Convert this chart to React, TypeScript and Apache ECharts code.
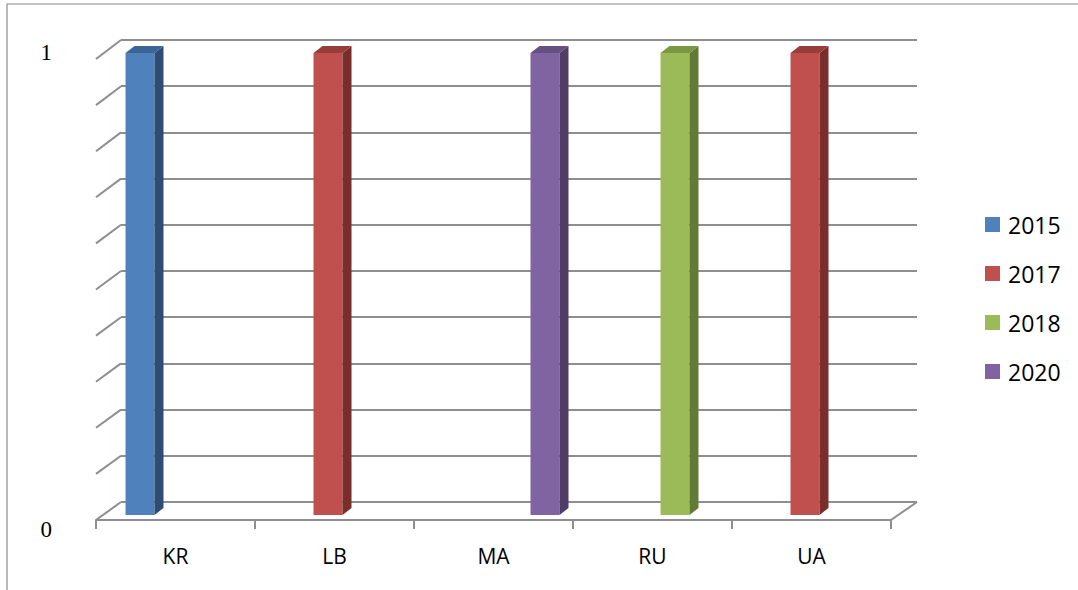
import React, { useEffect, useRef } from "react";
import * as echarts from "echarts";

const categories = ["KR", "LB", "MA", "RU", "UA"];
const years = ["2015", "2017", "2018", "2020"];
const v2015 = [1, 0, 0, 0, 0];
const v2017 = [0, 1, 0, 0, 1];
const v2018 = [0, 0, 0, 1, 0];
const v2020 = [0, 0, 1, 0, 0];
const seriesValues = [v2015, v2017, v2018, v2020];

const frontColors = ["#4F81BD", "#C0504D", "#9BBB59", "#8064A2"];
const sideColors = ["#2F4D74", "#7A2E2C", "#637A36", "#4F3D66"];
const topColors = ["#3B6597", "#973E3B", "#7A9844", "#65507F"];

const GRID_COLOR = "#8e8e8e";

export default function App() {
  const ref = useRef<HTMLDivElement>(null);

  useEffect(() => {
    if (!ref.current) return;
    const chart = echarts.init(ref.current, null, { renderer: "svg" });

    const depthX = 9;
    const depthY = 7;

    const makeRender = (s: number) => (params: any, api: any) => {
      const cat = api.value(0);
      const val = api.value(1);
      if (!val) return null;
      const base = api.coord([cat, 0]);
      const top = api.coord([cat, val]);
      const band = api.size([1, 0])[0];
      const w = band * 0.1824;
      const x0 = base[0] - 2 * w + s * w;
      const yT = top[1];
      const yB = base[1];
      return {
        type: "group",
        children: [
          {
            type: "rect",
            shape: { x: x0, y: yT, width: w, height: yB - yT },
            style: { fill: frontColors[s] },
          },
          {
            type: "polygon",
            shape: {
              points: [
                [x0 + w, yT],
                [x0 + w + depthX, yT - depthY],
                [x0 + w + depthX, yB - depthY],
                [x0 + w, yB],
              ],
            },
            style: { fill: sideColors[s] },
          },
          {
            type: "polygon",
            shape: {
              points: [
                [x0, yT],
                [x0 + depthX, yT - depthY],
                [x0 + w + depthX, yT - depthY],
                [x0 + w, yT],
              ],
            },
            style: { fill: topColors[s] },
          },
        ],
      };
    };

    // decorative 3D frame pieces (front stubs, floor edges, outer border)
    const graphics: any[] = [];
    const backTop = 40;
    const backBottom = 502;
    const frontTop = 59;
    const frontBottom = 520;
    for (let k = 0; k <= 10; k++) {
      const yb = backTop + ((backBottom - backTop) * k) / 10;
      const yf = frontTop + ((frontBottom - frontTop) * k) / 10;
      graphics.push({
        type: "line",
        shape: { x1: 96, y1: yf, x2: 121, y2: yb },
        style: { stroke: GRID_COLOR, lineWidth: 2 },
        silent: true,
      });
    }
    graphics.push({
      type: "line",
      shape: { x1: 891, y1: 520, x2: 917, y2: 502 },
      style: { stroke: GRID_COLOR, lineWidth: 2 },
      silent: true,
    });
    graphics.push({
      type: "polyline",
      shape: { points: [[7, 590], [7, 4], [1078, 4]] },
      style: { stroke: "#8a8a8a", lineWidth: 1.2, fill: "none" },
      silent: true,
    });

    chart.setOption({
      animation: false,
      backgroundColor: "#ffffff",
      grid: [
        { left: 104, top: 53, width: 795, height: 462 },
        { left: 121, top: 40, width: 796, height: 462 },
        { left: 96, top: 59, width: 795, height: 461 },
        { left: 60, top: 52, width: 20, height: 477 },
      ],
      xAxis: [
        { gridIndex: 0, type: "category", data: categories, show: false },
        { gridIndex: 1, type: "category", data: categories, show: false },
        {
          gridIndex: 2,
          type: "category",
          data: categories,
          axisLine: { show: true, lineStyle: { color: GRID_COLOR, width: 2 } },
          axisTick: { show: true, length: 9, lineStyle: { color: GRID_COLOR, width: 2 } },
          axisLabel: {
            color: "#000",
            fontSize: 21,
            fontFamily: "Open Sans",
            margin: 25,
          },
          splitLine: { show: false },
        },
        { gridIndex: 3, type: "value", show: false },
      ],
      yAxis: [
        { gridIndex: 0, type: "value", min: 0, max: 1, show: false },
        {
          gridIndex: 1,
          type: "value",
          min: 0,
          max: 1,
          interval: 0.1,
          axisLine: { show: false },
          axisTick: { show: false },
          axisLabel: { show: false },
          splitLine: { show: true, lineStyle: { color: GRID_COLOR, width: 2 } },
        },
        { gridIndex: 2, type: "value", min: 0, max: 1, show: false },
        {
          gridIndex: 3,
          type: "value",
          min: 0,
          max: 1,
          interval: 1,
          axisLine: { show: false },
          axisTick: { show: false },
          splitLine: { show: false },
          axisLabel: {
            color: "#000",
            fontSize: 23,
            fontFamily: "Liberation Serif",
            margin: 8,
          },
        },
      ],
      legend: {
        data: years,
        orient: "vertical",
        left: 985,
        top: 213,
        padding: 0,
        icon: "rect",
        itemWidth: 15,
        itemHeight: 15,
        itemGap: 26,
        textStyle: {
          color: "#000",
          fontSize: 23,
          lineHeight: 23,
          fontFamily: "Open Sans",
          padding: [0, 0, 0, 3],
        },
      },
      graphic: graphics,
      series: years.map((y, s) => ({
        name: y,
        type: "custom",
        xAxisIndex: 0,
        yAxisIndex: 0,
        itemStyle: { color: frontColors[s] },
        encode: { x: 0, y: 1 },
        renderItem: makeRender(s),
        data: seriesValues[s].map((v, i) => [i, v]),
        z: 3,
      })),
    });

    return () => chart.dispose();
  }, []);

  return (
    <div
      ref={ref}
      style={{ position: "absolute", left: 0, top: 0, width: 1078, height: 590 }}
    />
  );
}
